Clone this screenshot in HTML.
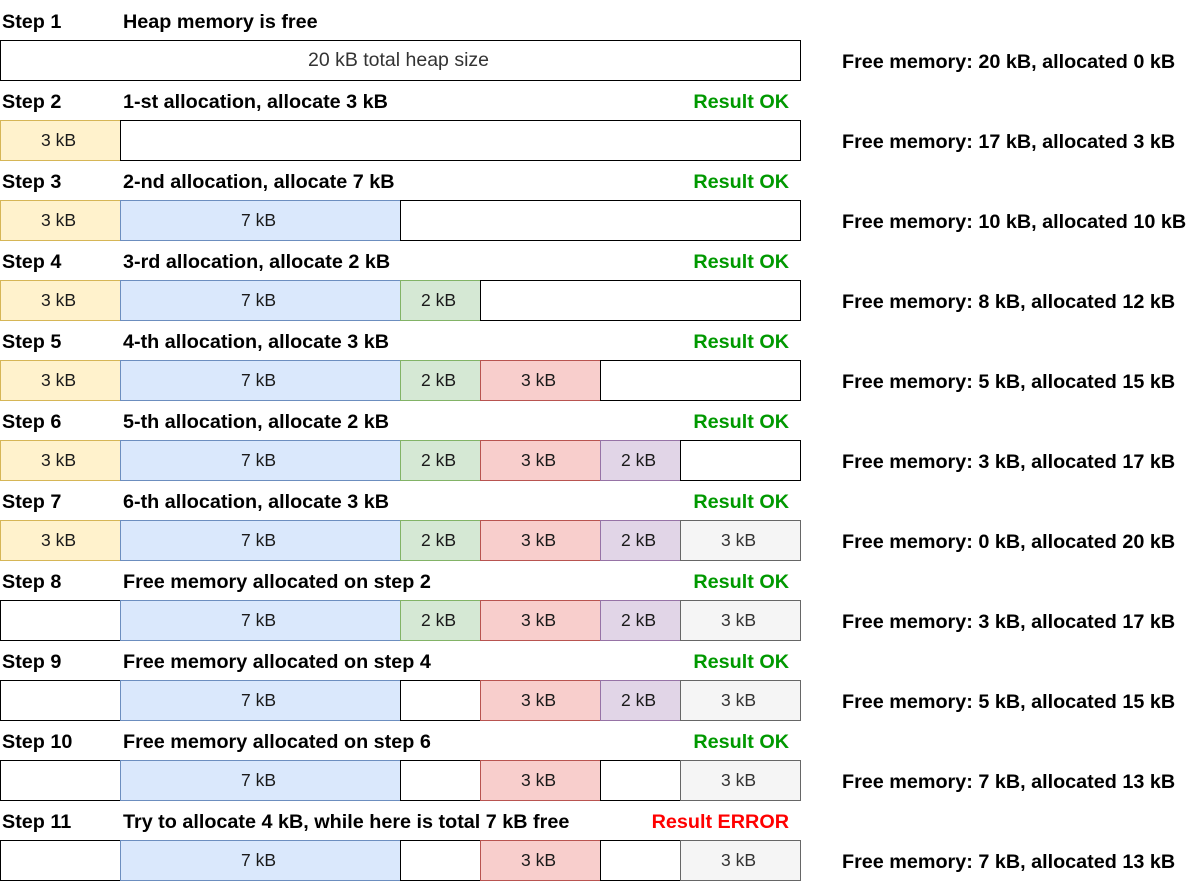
<!DOCTYPE html>
<html><head><meta charset="utf-8"><style>
body{margin:0;background:#fff;}
svg{display:block;font-family:"Liberation Sans",Arial,sans-serif;}
.b{font-weight:bold;font-size:19.8px;fill:#000;}
.blk{font-size:17.5px;}
</style></head><body>
<svg id="c" width="1201" height="881" viewBox="0 0 1201 881"></svg>
<script>
const steps=["Step 1","Step 2","Step 3","Step 4","Step 5","Step 6","Step 7","Step 8","Step 9","Step 10","Step 11"];
const titles=["Heap memory is free","1-st allocation, allocate 3 kB","2-nd allocation, allocate 7 kB","3-rd allocation, allocate 2 kB","4-th allocation, allocate 3 kB","5-th allocation, allocate 2 kB","6-th allocation, allocate 3 kB","Free memory allocated on step 2","Free memory allocated on step 4","Free memory allocated on step 6","Try to allocate 4 kB, while here is total 7 kB free"];
const results=["","OK","OK","OK","OK","OK","OK","OK","OK","OK","ERROR"];
const freeKB=[20,17,10,8,5,3,0,3,5,7,7];
const allocKB=[0,3,10,12,15,17,20,17,15,13,13];
// block layout per row: [kind,size]; kind 0 = free
const layouts=[
[[0,20]],
[[1,3],[0,17]],
[[1,3],[2,7],[0,10]],
[[1,3],[2,7],[3,2],[0,8]],
[[1,3],[2,7],[3,2],[4,3],[0,5]],
[[1,3],[2,7],[3,2],[4,3],[5,2],[0,3]],
[[1,3],[2,7],[3,2],[4,3],[5,2],[6,3]],
[[0,3],[2,7],[3,2],[4,3],[5,2],[6,3]],
[[0,3],[2,7],[0,2],[4,3],[5,2],[6,3]],
[[0,3],[2,7],[0,2],[4,3],[0,2],[6,3]],
[[0,3],[2,7],[0,2],[4,3],[0,2],[6,3]]
];
const fills=["#ffffff","#fff2cc","#dae8fc","#d5e8d4","#f8cecc","#e1d5e7","#f5f5f5"];
const strokes=["#000000","#d6b656","#6c8ebf","#82b366","#b85450","#9673a6","#666666"];
const svg=document.getElementById('c');
const NS="http://www.w3.org/2000/svg";
const kbx=k=>k*40;
function mk(t,a,txt){const e=document.createElementNS(NS,t);for(const k in a)e.setAttribute(k,a[k]);if(txt!==undefined)e.textContent=txt;svg.appendChild(e);return e;}
for(let i=0;i<steps.length;i++){
  const y0=80*i;
  let e=mk('text',{x:2,y:y0+28,class:'b'},steps[i]);
  
  
  e=mk('text',{x:123,y:y0+28,class:'b'},titles[i]);
  
  
  if(results[i]){
    e=mk('text',{x:789,y:y0+28,class:'b','text-anchor':'end',style:'fill:'+(results[i]==='OK'?'#009900':'#ff0000')},'Result '+results[i]);
    
    
  }
  let acc=0;
  layouts[i].forEach(([k,s])=>{
    const x=kbx(acc)+0.5,w=kbx(s);
    e=mk('rect',{x:x,y:y0+40.5,width:w,height:40,fill:fills[k],stroke:strokes[k],'stroke-width':1});
    
    
    let label=k?s+' kB':(i===0?'20 kB total heap size':'');
    if(label){
      e=mk('text',{x:x+w/2-2,y:y0+66,class:'blk','text-anchor':'middle',fill:(k===6||k===0)?'#333333':'#1a1a1a',style:i===0?'font-size:19.5px':''},label);
      
      
    }
    acc+=s;
  });
  e=mk('text',{x:842,y:y0+68,class:'b'},'Free memory: '+freeKB[i]+' kB, allocated '+allocKB[i]+' kB');
  
  
}
</script>
</body></html>
